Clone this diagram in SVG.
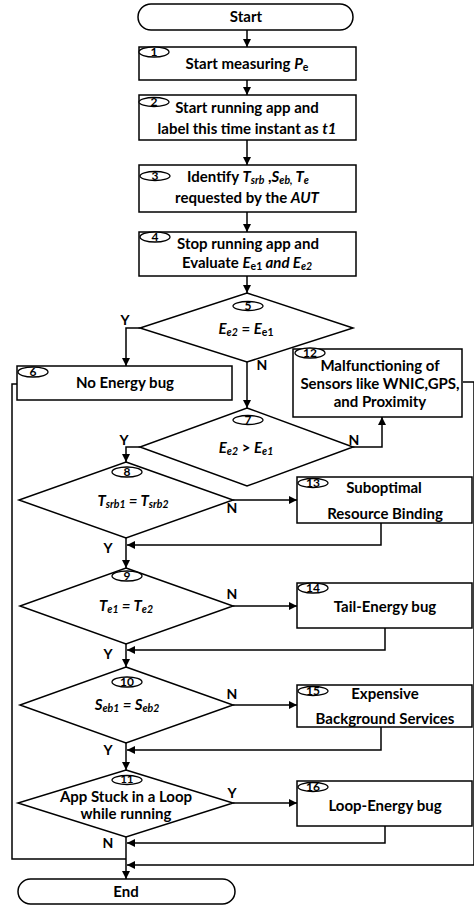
<svg xmlns="http://www.w3.org/2000/svg" width="474" height="909" viewBox="0 0 474 909">
  <style>
    .box { fill: #fff; stroke: #000; stroke-width: 1.5; }
    .num { fill: #fff; stroke: #000; stroke-width: 1.3; }
    .line { fill: none; stroke: #000; stroke-width: 1.5; }
    text { font-family: "Lato", "Liberation Sans", sans-serif; font-weight: bold; font-size: 15px; fill: #000; }
    .c { text-anchor: middle; }
    .n { font-size: 12px; text-anchor: middle; }
    .lbl { font-size: 14px; text-anchor: middle; }
    .i { font-style: italic; }
    .s { font-size: 10.5px; }
  </style>
  <defs>
    <marker id="arr" markerUnits="userSpaceOnUse" markerWidth="9" markerHeight="8" refX="8" refY="4" orient="auto">
      <path d="M0,0 L8,4 L0,8 z" fill="#000"/>
    </marker>
  </defs>

  <!-- connectors -->
  <g id="connectors" class="line" marker-end="url(#arr)">
    <path d="M247,30 V47"/>
    <path d="M247,80 V95"/>
    <path d="M247,140 V165"/>
    <path d="M247,212 V232"/>
    <path d="M247,276 V293"/>
    <path d="M140,328 H126 V366"/>
    <path d="M247,362 V408"/>
    <path d="M353,447 H382 V417"/>
    <path d="M140,447 H126 V462"/>
    <path d="M233,500 H297"/>
    <path d="M381,523 V545 H127"/>
    <path d="M126,538 V568"/>
    <path d="M233,606 H297"/>
    <path d="M385,628 V650 H127"/>
    <path d="M126,644 V667"/>
    <path d="M233,705 H297"/>
    <path d="M381,727 V750 H127"/>
    <path d="M126,743 V770"/>
    <path d="M233,803 H297"/>
    <path d="M385,826 V843 H127"/>
    <path d="M126,837 V879"/>
    <path d="M17,384 H12 V859 H126" marker-end="none"/>
    <path d="M463,382 H474 V865 H127"/>
  </g>

  <!-- branch labels -->
  <g id="labels">
    <text class="lbl" x="125" y="325">Y</text>
    <text class="lbl" x="262" y="370">N</text>
    <text class="lbl" x="354" y="445">N</text>
    <text class="lbl" x="124" y="445">Y</text>
    <text class="lbl" x="232" y="513">N</text>
    <text class="lbl" x="108" y="553">Y</text>
    <text class="lbl" x="232" y="599">N</text>
    <text class="lbl" x="108" y="659">Y</text>
    <text class="lbl" x="232" y="699">N</text>
    <text class="lbl" x="108" y="755">Y</text>
    <text class="lbl" x="232" y="798">Y</text>
    <text class="lbl" x="108" y="848">N</text>
  </g>

  <g id="start">
    <rect class="box" x="138" y="4" width="215" height="26" rx="13"/>
    <text class="c" x="246" y="22">Start</text>
  </g>

  <g id="step1">
    <rect class="box" x="139" y="47" width="217" height="33"/>
    <ellipse class="num" cx="154" cy="52" rx="15" ry="5"/>
    <text class="n" x="154" y="56">1</text>
    <text class="c" x="247" y="69">Start measuring  <tspan class="i">P</tspan><tspan class="s" dy="2">e</tspan></text>
  </g>

  <g id="step2">
    <rect class="box" x="139" y="95" width="217" height="45"/>
    <ellipse class="num" cx="154" cy="102" rx="15" ry="4.5"/>
    <text class="n" x="154" y="106">2</text>
    <text class="c" x="247" y="113">Start running app and</text>
    <text class="c" x="247" y="134">label this time instant as <tspan class="i">t1</tspan></text>
  </g>

  <g id="step3">
    <rect class="box" x="139" y="165" width="217" height="47"/>
    <ellipse class="num" cx="155" cy="176" rx="15" ry="4.5"/>
    <text class="n" x="155" y="180">3</text>
    <text class="c" x="248" y="182">Identify <tspan class="i">T</tspan><tspan class="s i" dy="2">srb</tspan><tspan dy="-2"> ,</tspan><tspan class="i">S</tspan><tspan class="s i" dy="2">eb,</tspan><tspan class="i" dy="-2"> T</tspan><tspan class="s i" dy="2">e</tspan></text>
    <text class="c" x="247" y="203">requested by the <tspan class="i">AUT</tspan></text>
  </g>

  <g id="step4">
    <rect class="box" x="139" y="232" width="217" height="44"/>
    <ellipse class="num" cx="155" cy="237" rx="15" ry="5"/>
    <text class="n" x="155" y="241">4</text>
    <text class="c" x="248" y="249">Stop running app and</text>
    <text class="c" x="247" y="268">Evaluate <tspan class="i">E</tspan><tspan class="s" dy="2">e1</tspan><tspan class="i" dy="-2"> and E</tspan><tspan class="s i" dy="2">e2</tspan></text>
  </g>

  <g id="decision5">
    <polygon class="box" points="247,293 353,328 247,362 140,328"/>
    <ellipse class="num" cx="248" cy="306" rx="15" ry="4.5"/>
    <text class="n" x="248" y="310">5</text>
    <text class="c" x="246" y="334"><tspan class="i">E</tspan><tspan class="s i" dy="2">e2</tspan><tspan dy="-2"> = </tspan><tspan class="i">E</tspan><tspan class="s" dy="2">e1</tspan></text>
  </g>

  <g id="step6">
    <rect class="box" x="17" y="366" width="215" height="34"/>
    <ellipse class="num" cx="33" cy="372" rx="15" ry="5"/>
    <text class="n" x="33" y="376">6</text>
    <text class="c" x="125" y="388">No Energy bug</text>
  </g>

  <g id="step12">
    <rect class="box" x="293" y="349" width="169" height="68"/>
    <ellipse class="num" cx="310" cy="353" rx="15" ry="5"/>
    <text class="n" x="310" y="357">12</text>
    <text class="c" x="380" y="371">Malfunctioning of</text>
    <text class="c" x="380" y="389">Sensors like WNIC,GPS,</text>
    <text class="c" x="380" y="407">and Proximity</text>
  </g>

  <g id="decision7">
    <polygon class="box" points="247,408 353,447 247,486 140,447"/>
    <ellipse class="num" cx="248" cy="420" rx="15" ry="4.5"/>
    <text class="n" x="248" y="424">7</text>
    <text class="c" x="246" y="453"><tspan class="i">E</tspan><tspan class="s i" dy="2">e2</tspan><tspan dy="-2"> &gt;  </tspan><tspan class="i">E</tspan><tspan class="s i" dy="2">e1</tspan></text>
  </g>

  <g id="decision8">
    <polygon class="box" points="126,462 233,500 126,538 19,500"/>
    <ellipse class="num" cx="127" cy="472" rx="15" ry="5"/>
    <text class="n" x="127" y="476">8</text>
    <text class="c i" x="133" y="506">T<tspan class="s" dy="2">srb1</tspan><tspan dy="-2"> = T</tspan><tspan class="s" dy="2">srb2</tspan></text>
  </g>

  <g id="step13">
    <rect class="box" x="297" y="477" width="175" height="46"/>
    <ellipse class="num" cx="313" cy="483" rx="15" ry="4.5"/>
    <text class="n" x="313" y="487">13</text>
    <text class="c" x="384" y="493">Suboptimal</text>
    <text class="c" x="385" y="519">Resource Binding</text>
  </g>

  <g id="decision9">
    <polygon class="box" points="126,568 233,606 126,644 20,606"/>
    <ellipse class="num" cx="127" cy="576" rx="15" ry="5"/>
    <text class="n" x="127" y="580">9</text>
    <text class="c i" x="126" y="611">T<tspan class="s" dy="2">e1</tspan><tspan dy="-2">  = T</tspan><tspan class="s" dy="2">e2</tspan></text>
  </g>

  <g id="step14">
    <rect class="box" x="297" y="583" width="175" height="45"/>
    <ellipse class="num" cx="313" cy="588" rx="15" ry="5"/>
    <text class="n" x="313" y="592">14</text>
    <text class="c" x="385" y="612">Tail-Energy bug</text>
  </g>

  <g id="decision10">
    <polygon class="box" points="126,667 233,705 126,743 20,705"/>
    <ellipse class="num" cx="127" cy="682" rx="15" ry="5"/>
    <text class="n" x="127" y="686">10</text>
    <text class="c i" x="127" y="710">S<tspan class="s" dy="2">eb1</tspan><tspan dy="-2"> = S</tspan><tspan class="s" dy="2">eb2</tspan></text>
  </g>

  <g id="step15">
    <rect class="box" x="297" y="685" width="175" height="42"/>
    <ellipse class="num" cx="313" cy="691" rx="15" ry="4.5"/>
    <text class="n" x="313" y="695">15</text>
    <text class="c" x="385" y="699">Expensive</text>
    <text class="c" x="385" y="724">Background Services</text>
  </g>

  <g id="decision11">
    <polygon class="box" points="126,770 233,803 126,837 18,803"/>
    <ellipse class="num" cx="127" cy="780" rx="15" ry="4.5"/>
    <text class="n" x="127" y="783" style="font-size:11px">11</text>
    <text class="c" x="126" y="802">App Stuck in a Loop</text>
    <text class="c" x="126" y="819">while running</text>
  </g>

  <g id="step16">
    <rect class="box" x="297" y="781" width="175" height="45"/>
    <ellipse class="num" cx="313" cy="787" rx="15" ry="4.5"/>
    <text class="n" x="313" y="791">16</text>
    <text class="c" x="385" y="811">Loop-Energy bug</text>
  </g>

  <g id="end">
    <rect class="box" x="18" y="879" width="217" height="25" rx="12.5"/>
    <text class="c" x="126" y="897">End</text>
  </g>
</svg>
